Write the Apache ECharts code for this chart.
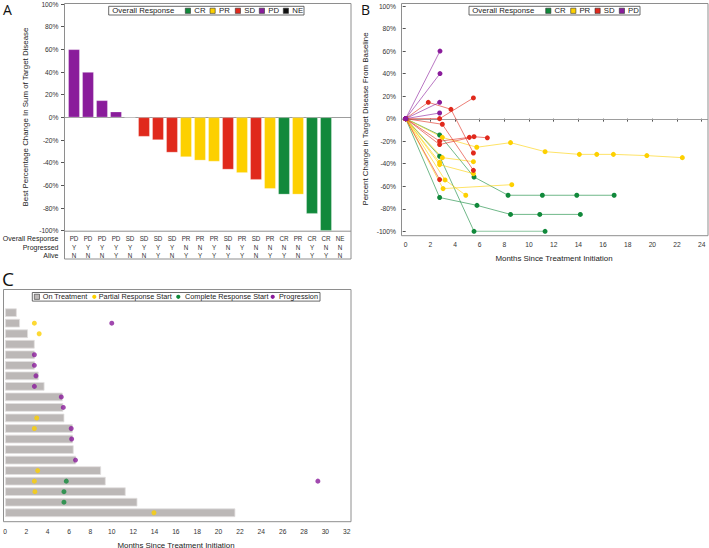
<!DOCTYPE html>
<html>
<head>
<meta charset="utf-8">
<script src="https://cdn.jsdelivr.net/npm/echarts@6/dist/echarts.min.js"></script>
<style>
html, body { margin: 0; padding: 0; background: #fff; }
#chart { width: 709px; height: 548px; }
</style>
</head>
<body>
<div id="chart"></div>
<script>
// ---- panel A: best % change per patient (waterfall) ----
var respA = ['PD', 'PD', 'PD', 'PD', 'SD', 'SD', 'SD', 'SD', 'PR', 'PR', 'PR', 'SD', 'PR', 'SD', 'PR', 'CR', 'PR', 'CR', 'CR', 'NE']
var bestChange = [60, 40, 15, 5, -0.6, -17, -20, -31, -35, -38, -39, -46, -49, -55, -63, -68, -68, -85, -100, null]
var progressed = ['Y', 'Y', 'Y', 'Y', 'Y', 'Y', 'Y', 'Y', 'N', 'N', 'Y', 'N', 'Y', 'N', 'N', 'N', 'N', 'Y', 'N', 'N']
var alive = ['N', 'N', 'N', 'Y', 'N', 'N', 'Y', 'N', 'Y', 'Y', 'Y', 'Y', 'Y', 'N', 'Y', 'Y', 'N', 'Y', 'Y', 'N']

// ---- panel B: spider plot, [months, % change] per patient ----
var crLines = [
  [[0, 0], [2.75, -14.5], [5.54, -51.8], [8.3, -68], [11.08, -68], [13.87, -68], [16.9, -68]],
  [[0, 0], [2.75, -70], [5.78, -77], [8.5, -85], [10.87, -85], [14.16, -85]],
  [[0, 0], [2.75, -33.4], [5.54, -100], [11.3, -100]]
]
var prLines = [
  [[0, 0], [2.97, -16.6], [5.76, -25.4], [8.5, -21.3], [11.3, -29.3], [14.08, -31.7], [15.49, -31.7], [16.84, -31.7], [19.55, -32.8], [22.43, -34.6]],
  [[0, 0], [2.97, -34.6], [5.49, -38.2]],
  [[0, 0], [2.75, -38.8]],
  [[0, 0], [2.75, -40.8], [5.49, -48.8]],
  [[0, 0], [3.03, -62.1], [8.6, -58.6]],
  [[0, 0], [3.19, -54.4], [4.87, -68]]
]
var sdLines = [
  [[0, 0], [2.75, 0], [5.49, 18.4]],
  [[0, 0], [1.83, 14.5], [3.67, 8.3], [5.49, -30.5]],
  [[0, 0], [2.97, -5], [5.49, -45.9]],
  [[0, 0], [2.75, -20], [5.16, -16.6]],
  [[0, 0], [2.75, -23], [5.54, -16], [6.62, -17]],
  [[0, 0], [2.75, -54.1]]
]
var pdLines = [
  [[0, 0], [2.78, 60]],
  [[0, 0], [2.78, 40]],
  [[0, 0], [2.75, 14.5]],
  [[0, 0], [2.75, 5]]
]
var bTicks = [0, 24, 2] // min, max, step

// ---- panel C: swimmer plot, months on treatment + events [months, row] ----
var onTreatment = [1.1, 1.4, 2.15, 2.78, 2.78, 2.78, 3.15, 3.7, 5.4, 5.46, 5.56, 6.34, 6.37, 6.43, 6.65, 9.0, 9.43, 11.3, 12.4, 21.57]
var partialStart = [[2.75, 1], [3.2, 2], [2.97, 10], [2.75, 11], [3.06, 15], [2.75, 16], [2.8, 17], [13.95, 19]]
var completeStart = [[5.74, 16], [5.52, 17], [5.52, 18]]
var progression = [[10.0, 1], [2.75, 4], [2.75, 5], [2.9, 6], [2.75, 7], [5.27, 8], [5.46, 9], [6.2, 11], [6.24, 12], [6.6, 14], [29.3, 16]]
var cTicks = [0, 32, 2]

var colors = { CR: '#11893b', PR: '#fdd000', SD: '#e0291c', PD: '#8a1c9b', NE: '#111111' }
var FONT = 'Liberation Sans'

var patientIds = respA.map(function(r, i) { return 'P' + (i + 1) })

var series = []
// A bars
series.push({
  type: 'bar',
  xAxisIndex: 0,
  yAxisIndex: 0,
  barWidth: 11.5,
  data: bestChange.map(function(v, i) {
    return { value: v, itemStyle: { color: colors[respA[i]] } }
  }),
  itemStyle: { borderColor: 'rgba(255,255,255,0.45)', borderWidth: 0.6 }
})
// B lines
function addLines(list, key) {
  list.forEach(function(pts) {
    series.push({
      type: 'line',
      name: key,
      xAxisIndex: 1,
      yAxisIndex: 1,
      data: pts,
      symbol: 'circle',
      symbolSize: 5,
      color: colors[key],
      lineStyle: { width: 1, opacity: 0.6 },
      itemStyle: { color: colors[key] }
    })
  })
}
addLines(crLines, 'CR')
addLines(prLines, 'PR')
addLines(sdLines, 'SD')
addLines(pdLines, 'PD')
// C bars and events
series.push({
  type: 'bar',
  xAxisIndex: 2,
  yAxisIndex: 2,
  barWidth: 8.6,
  data: onTreatment,
  itemStyle: { color: '#bcb8b7', borderColor: '#e2e0e0', borderWidth: 0.8 }
})
;[[partialStart, colors.PR], [completeStart, colors.CR], [progression, colors.PD]].forEach(function(s) {
  series.push({
    type: 'scatter',
    xAxisIndex: 2,
    yAxisIndex: 2,
    symbolSize: 5,
    data: s[0],
    itemStyle: { color: s[1] }
  })
})

var tickLabel = { fontSize: 6.7, color: '#333', fontFamily: FONT }
var tickStyle = { length: 3, lineStyle: { color: '#555', width: 1 } }

var option = {
  animation: false,
  textStyle: { fontFamily: FONT },
  grid: [
    { left: 67, top: 4, width: 280, height: 226.7 },
    { left: 405.7, top: 6, width: 296, height: 225.3 },
    { left: 5, top: 307.4, width: 341.7, height: 210.6 }
  ],
  xAxis: [
    {
      gridIndex: 0,
      type: 'category',
      data: patientIds,
      axisLine: { show: false },
      axisTick: { show: false },
      axisLabel: {
        interval: 0,
        margin: 4,
        fontSize: 6.3,
        lineHeight: 8.3,
        color: '#333',
        formatter: function(v, i) {
          return respA[i] + '\n' + progressed[i] + '\n' + alive[i]
        }
      }
    },
    {
      gridIndex: 1,
      type: 'value',
      min: bTicks[0],
      max: bTicks[1],
      interval: bTicks[2],
      offset: 4.4,
      axisLine: { show: false },
      axisTick: tickStyle,
      axisLabel: Object.assign({ margin: 5.5 }, tickLabel),
      splitLine: { show: false }
    },
    {
      gridIndex: 2,
      type: 'value',
      min: cTicks[0],
      max: cTicks[1],
      interval: cTicks[2],
      offset: 3.7,
      axisLine: { show: false },
      axisTick: tickStyle,
      axisLabel: Object.assign({ margin: 6 }, tickLabel),
      splitLine: { show: false }
    }
  ],
  yAxis: [
    {
      gridIndex: 0,
      type: 'value',
      min: -100,
      max: 100,
      interval: 20,
      offset: 3,
      axisLine: { show: false },
      axisTick: Object.assign({ show: true }, tickStyle),
      axisLabel: Object.assign({ margin: 5.5, formatter: '{value}%' }, tickLabel),
      splitLine: { show: false }
    },
    {
      gridIndex: 1,
      type: 'value',
      min: -100,
      max: 100,
      interval: 20,
      offset: 4.7,
      axisLine: { show: false },
      axisTick: Object.assign({ show: true }, tickStyle),
      axisLabel: Object.assign({ margin: 5, formatter: '{value}%' }, tickLabel),
      splitLine: { show: false }
    },
    {
      gridIndex: 2,
      type: 'category',
      inverse: true,
      data: onTreatment.map(function(v, i) { return 'R' + (i + 1) }),
      show: false
    }
  ],
  series: series
}

var myChart = echarts.init(document.getElementById('chart'), null, { renderer: 'svg' })
myChart.setOption(option)

// zero reference lines, placed through the axes
var zeroA = myChart.convertToPixel({ yAxisIndex: 0 }, 0)
var zeroB = myChart.convertToPixel({ yAxisIndex: 1 }, 0)

function txt(s, x, y, size, opts) {
  opts = opts || {}
  return {
    type: 'text',
    x: x,
    y: y,
    rotation: opts.rotation || 0,
    z: 100,
    style: {
      text: s,
      fill: opts.fill || '#222',
      font: (opts.weight || 'normal') + ' ' + size + 'px ' + (opts.family || FONT),
      align: opts.align || 'left',
      verticalAlign: opts.valign || 'middle'
    }
  }
}
function frame(x, y, w, h) {
  return { type: 'rect', z: 50, shape: { x: x, y: y, width: w, height: h }, style: { fill: null, stroke: '#8e8e8e', lineWidth: 1 } }
}
function hline(x1, x2, y, color) {
  return { type: 'line', z: 1, shape: { x1: x1, y1: y, x2: x2, y2: y }, style: { stroke: color, lineWidth: 1 } }
}
function square(x, y, color) {
  return { type: 'rect', z: 101, shape: { x: x, y: y - 2.6, width: 5.2, height: 5.2 }, style: { fill: color, stroke: '#333', lineWidth: 0.6 } }
}
function dot(x, y, color) {
  return { type: 'circle', z: 101, shape: { cx: x, cy: y, r: 2.1 }, style: { fill: color } }
}
function legendBox(x, y, w, h) {
  return { type: 'rect', z: 100, shape: { x: x, y: y, width: w, height: h }, style: { fill: '#fff', stroke: '#444', lineWidth: 0.8 } }
}

var g = []
// panel letters
g.push(txt('A', 3, 9.5, 14, { family: 'Open Sans', fill: '#111' }))
g.push(txt('B', 361, 9.5, 14, { family: 'Open Sans', fill: '#111' }))
g.push(txt('C', 2, 279, 19, { family: 'Open Sans', fill: '#111' }))

// frames
g.push(frame(64.5, 3.5, 286.5, 255.5))
g.push(hline(64.5, 351, 231.2, '#8e8e8e'))
g.push(frame(401.5, 3.5, 306.5, 232.2))
g.push(frame(3.5, 289.5, 347.5, 232.2))

// zero lines
g.push(hline(64.5, 351, Math.round(zeroA) + 0.5, '#9d9d9d'))
g.push(hline(401.5, 708, Math.round(zeroB) + 0.5, '#9d9d9d'))

// axis titles
g.push(txt('Best Percentage Change In Sum of Target Disease', 25.5, 117, 7.9, { rotation: Math.PI / 2, align: 'center' }))
g.push(txt('Percent Change in Target Disease From Baseline', 365.5, 119, 7.9, { rotation: Math.PI / 2, align: 'center' }))
g.push(txt('Months Since Treatment Initiation', 554, 258, 7.9, { align: 'center' }))
g.push(txt('Months Since Treatment Initiation', 176, 545, 7.9, { align: 'center' }))

// table row headers (panel A)
g.push(txt('Overall Response', 58.5, 238.7, 7, { align: 'right' }))
g.push(txt('Progressed', 58.5, 247, 7, { align: 'right' }))
g.push(txt('Alive', 58.5, 255.3, 7, { align: 'right' }))

// legend A
g.push(legendBox(108.7, 6.3, 195.3, 8.7))
g.push(txt('Overall Response', 112.3, 10.8, 7.8))
;[['CR', 185.3], ['PR', 210], ['SD', 235.3], ['PD', 259.3], ['NE', 283.3]].forEach(function(it) {
  g.push(square(it[1], 10.8, colors[it[0]]))
  g.push(txt(it[0], it[1] + 9, 10.8, 7.8))
})

// legend B
g.push(legendBox(469, 6.3, 171, 8.7))
g.push(txt('Overall Response', 472.3, 10.8, 7.8))
;[['CR', 545.7], ['PR', 570.7], ['SD', 595], ['PD', 619.3]].forEach(function(it) {
  g.push(square(it[1], 10.8, colors[it[0]]))
  g.push(txt(it[0], it[1] + 8.7, 10.8, 7.8))
})

// legend C
g.push(legendBox(32.3, 292.5, 287.7, 8.6))
g.push(square(34.3, 296.8, '#bcb8b7'))
g.push(txt('On Treatment', 42.7, 296.9, 7.3))
g.push(dot(94.3, 296.8, colors.PR))
g.push(txt('Partial Response Start', 98.7, 296.9, 7.3))
g.push(dot(178.3, 296.8, colors.CR))
g.push(txt('Complete Response Start', 185, 296.9, 7.3))
g.push(dot(272.7, 296.8, colors.PD))
g.push(txt('Progression', 279, 296.9, 7.3))

myChart.setOption({ graphic: g })

window.onresize = function() {
  myChart.resize()
}
</script>
</body>
</html>
